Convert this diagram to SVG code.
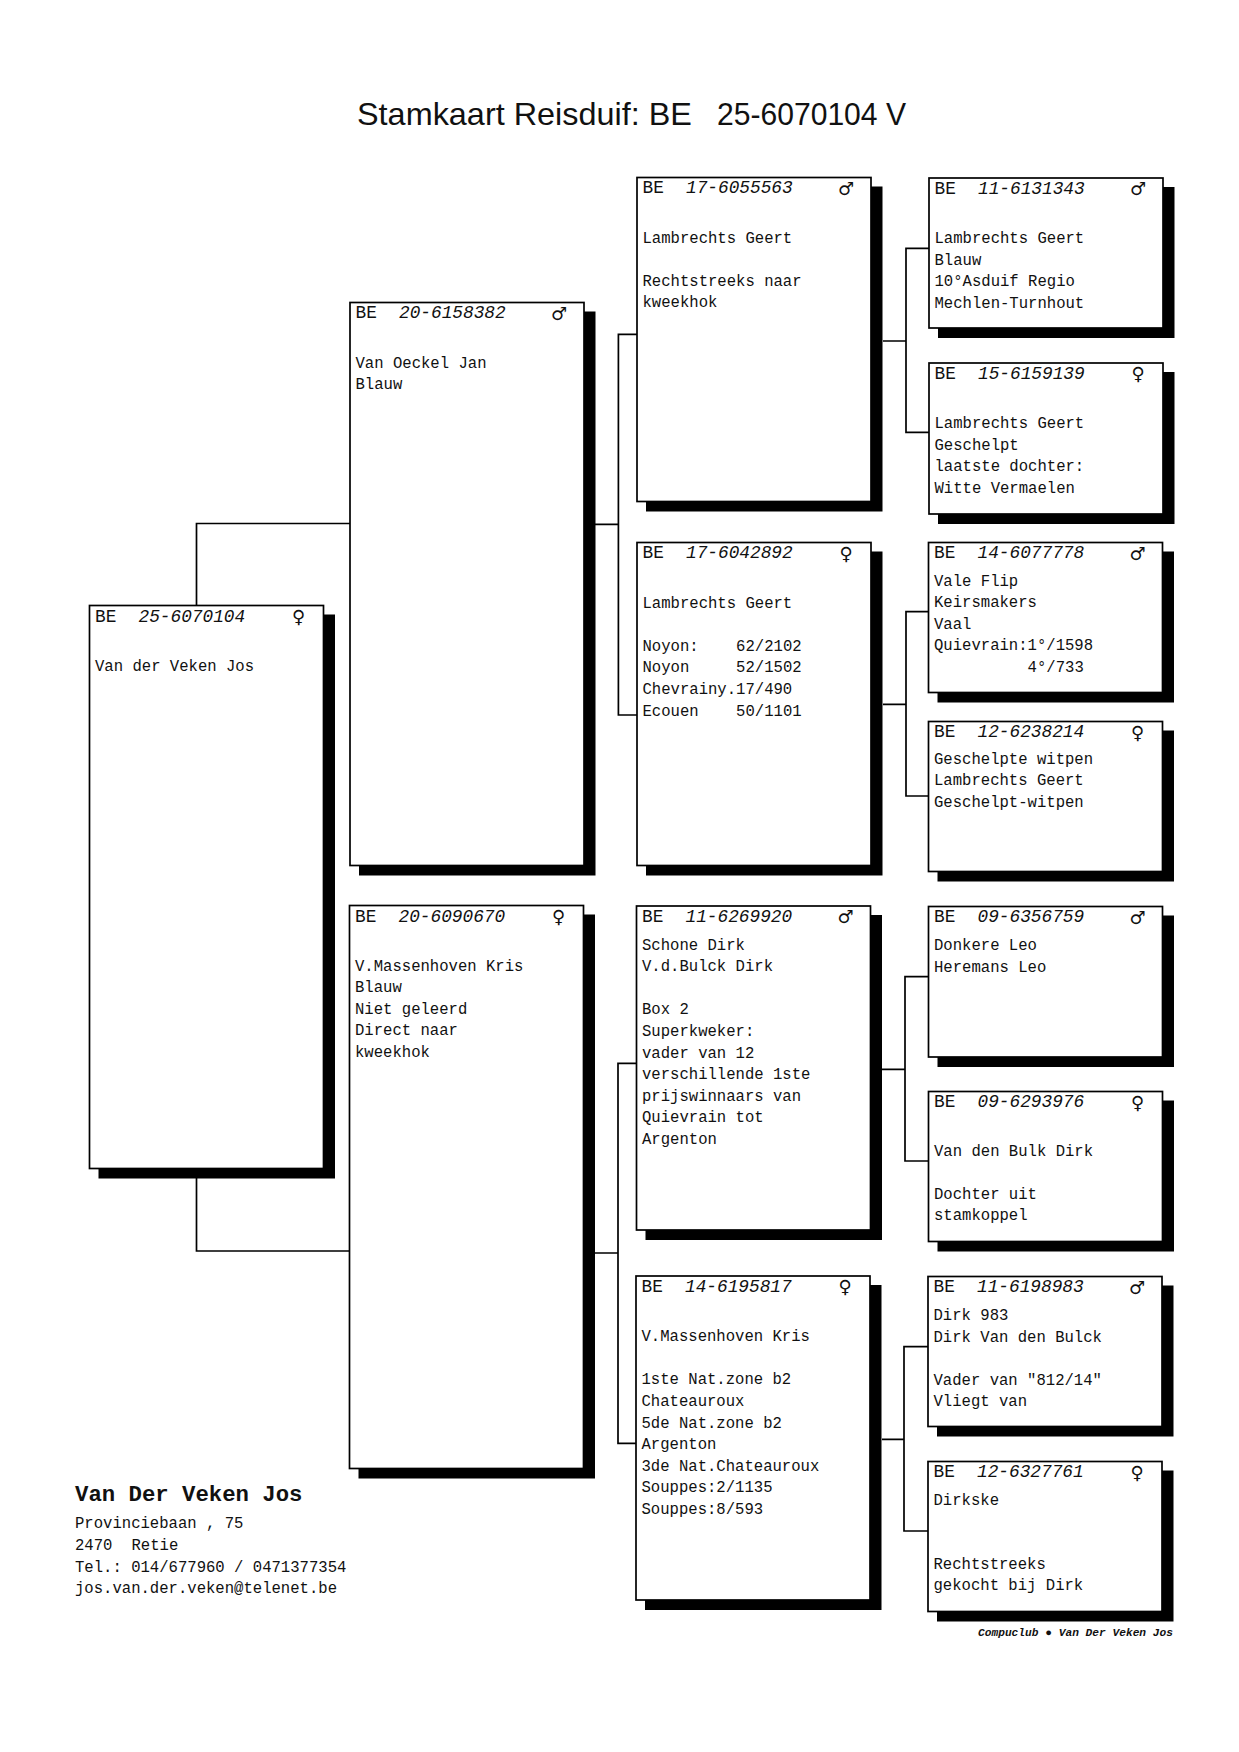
<svg xmlns="http://www.w3.org/2000/svg" width="1239" height="1752" viewBox="0 0 1239 1752">
<style>
.box{fill:#fff;stroke:#000;stroke-width:1.7}
.shd{fill:#000}
.hd{font-family:"Liberation Mono","Courier New",monospace;font-size:17.8px;fill:#111}
.num{font-style:italic}
.sx{font-family:"DejaVu Sans",sans-serif;font-size:18px;text-anchor:middle;fill:#111}
.t{font-family:"Liberation Mono","Courier New",monospace;font-size:15.6px;fill:#111}
.ln{fill:none;stroke:#000;stroke-width:1.7}
.title{font-family:"Liberation Sans",Arial,sans-serif;font-size:31.5px;fill:#111}
.own{font-family:"Liberation Mono","Courier New",monospace;font-size:22.3px;font-weight:bold;fill:#111}
.foot{font-family:"Liberation Mono","Courier New",monospace;font-size:11px;font-weight:bold;font-style:italic;fill:#111}
</style>
<rect width="1239" height="1752" fill="#fff"/>
<text class="title" x="357" y="125" textLength="335" lengthAdjust="spacingAndGlyphs">Stamkaart Reisduif: BE</text>
<text class="title" x="717" y="125" textLength="189" lengthAdjust="spacingAndGlyphs">25-6070104 V</text>

<g id="connectors">
<path class="ln" d="M196.5,605.5 V523.5 H350"/>
<path class="ln" d="M196.5,1178 V1251 H349.5"/>
<path class="ln" d="M595,524.3 H618.4 M637,334.3 H618.4 V715 H637"/>
<path class="ln" d="M595,1253 H618 M636.5,1063.3 H618 V1443.3 H636"/>
<path class="ln" d="M883,341 H906 M929,248.3 H906 V432.3 H929"/>
<path class="ln" d="M883,704.3 H906 M928.5,611.7 H906 V796 H928.5"/>
<path class="ln" d="M882,1069.3 H905 M928.5,976.7 H905 V1161 H928.5"/>
<path class="ln" d="M882,1439.3 H904 M928,1346.7 H904 V1531 H928"/>
</g>

<g id="n-25-6070104" transform="translate(89.5,605.5)">
<rect class="shd" x="9" y="9" width="236.5" height="564"/>
<rect class="box" width="234" height="563"/>
<text class="hd" x="5.5" y="16">BE</text><text class="hd num" x="49" y="16">25-6070104</text><text class="sx" x="209" y="17">♀</text>
<text class="t" x="5.5" y="65.1">Van der Veken Jos</text>
</g>

<g id="n-20-6158382" transform="translate(350,302.5)">
<rect class="shd" x="9" y="9" width="236.5" height="564"/>
<rect class="box" width="234" height="563"/>
<text class="hd" x="5.5" y="15.5">BE</text><text class="hd num" x="49" y="15.5">20-6158382</text><text class="sx" x="209" y="17">♂</text>
<text class="t" x="5.5" y="65.1">Van Oeckel Jan</text>
<text class="t" x="5.5" y="86.7">Blauw</text>
</g>

<g id="n-20-6090670" transform="translate(349.5,905.5)">
<rect class="shd" x="9" y="9" width="236.5" height="564"/>
<rect class="box" width="234" height="563"/>
<text class="hd" x="5.5" y="16">BE</text><text class="hd num" x="49" y="16">20-6090670</text><text class="sx" x="209" y="17">♀</text>
<text class="t" x="5.5" y="65.1">V.Massenhoven Kris</text>
<text class="t" x="5.5" y="86.7">Blauw</text>
<text class="t" x="5.5" y="108.3">Niet geleerd</text>
<text class="t" x="5.5" y="129.9">Direct naar</text>
<text class="t" x="5.5" y="151.5">kweekhok</text>
</g>

<g id="n-17-6055563" transform="translate(637,177.5)">
<rect class="shd" x="9" y="9" width="236.5" height="325"/>
<rect class="box" width="234" height="324"/>
<text class="hd" x="5.5" y="15.5">BE</text><text class="hd num" x="49" y="15.5">17-6055563</text><text class="sx" x="209" y="17">♂</text>
<text class="t" x="5.5" y="65.1">Lambrechts Geert</text>
<text class="t" x="5.5" y="108.3">Rechtstreeks naar</text>
<text class="t" x="5.5" y="129.9">kweekhok</text>
</g>

<g id="n-17-6042892" transform="translate(637,542.5)">
<rect class="shd" x="9" y="9" width="236.5" height="324"/>
<rect class="box" width="234" height="323"/>
<text class="hd" x="5.5" y="15.5">BE</text><text class="hd num" x="49" y="15.5">17-6042892</text><text class="sx" x="209" y="17">♀</text>
<text class="t" x="5.5" y="65.1">Lambrechts Geert</text>
<text class="t" y="108.3"><tspan x="5.5">Noyon:</tspan><tspan x="99.1">62/2102</tspan></text>
<text class="t" y="129.9"><tspan x="5.5">Noyon</tspan><tspan x="99.1">52/1502</tspan></text>
<text class="t" x="5.5" y="151.5">Chevrainy.17/490</text>
<text class="t" y="173.1"><tspan x="5.5">Ecouen</tspan><tspan x="99.1">50/1101</tspan></text>
</g>

<g id="n-11-6269920" transform="translate(636.5,906)">
<rect class="shd" x="9" y="9" width="236.5" height="325"/>
<rect class="box" width="234" height="324"/>
<text class="hd" x="5.5" y="15.5">BE</text><text class="hd num" x="49" y="15.5">11-6269920</text><text class="sx" x="209" y="17">♂</text>
<text class="t" x="5.5" y="43.5">Schone Dirk</text>
<text class="t" x="5.5" y="65.1">V.d.Bulck Dirk</text>
<text class="t" x="5.5" y="108.3">Box 2</text>
<text class="t" x="5.5" y="129.9">Superkweker:</text>
<text class="t" x="5.5" y="151.5">vader van 12</text>
<text class="t" x="5.5" y="173.1">verschillende 1ste</text>
<text class="t" x="5.5" y="194.7">prijswinnaars van</text>
<text class="t" x="5.5" y="216.3">Quievrain tot</text>
<text class="t" x="5.5" y="237.9">Argenton</text>
</g>

<g id="n-14-6195817" transform="translate(636,1276)">
<rect class="shd" x="9" y="9" width="236.5" height="325"/>
<rect class="box" width="234" height="324"/>
<text class="hd" x="5.5" y="15.5">BE</text><text class="hd num" x="49" y="15.5">14-6195817</text><text class="sx" x="209" y="17">♀</text>
<text class="t" x="5.5" y="65.1">V.Massenhoven Kris</text>
<text class="t" x="5.5" y="108.3">1ste Nat.zone b2</text>
<text class="t" x="5.5" y="129.9">Chateauroux</text>
<text class="t" x="5.5" y="151.5">5de Nat.zone b2</text>
<text class="t" x="5.5" y="173.1">Argenton</text>
<text class="t" x="5.5" y="194.7">3de Nat.Chateauroux</text>
<text class="t" x="5.5" y="216.3">Souppes:2/1135</text>
<text class="t" x="5.5" y="237.9">Souppes:8/593</text>
</g>

<g id="n-11-6131343" transform="translate(929,178)">
<rect class="shd" x="9" y="9" width="236.5" height="151"/>
<rect class="box" width="234" height="150"/>
<text class="hd" x="5.5" y="15.5">BE</text><text class="hd num" x="49" y="15.5">11-6131343</text><text class="sx" x="209" y="17">♂</text>
<text class="t" x="5.5" y="65.1">Lambrechts Geert</text>
<text class="t" x="5.5" y="86.7">Blauw</text>
<text class="t" x="5.5" y="108.3">10°Asduif Regio</text>
<text class="t" x="5.5" y="129.9">Mechlen-Turnhout</text>
</g>

<g id="n-15-6159139" transform="translate(929,363)">
<rect class="shd" x="9" y="9" width="236.5" height="152"/>
<rect class="box" width="234" height="151"/>
<text class="hd" x="5.5" y="15.5">BE</text><text class="hd num" x="49" y="15.5">15-6159139</text><text class="sx" x="209" y="17">♀</text>
<text class="t" x="5.5" y="65.1">Lambrechts Geert</text>
<text class="t" x="5.5" y="86.7">Geschelpt</text>
<text class="t" x="5.5" y="108.3">laatste dochter:</text>
<text class="t" x="5.5" y="129.9">Witte Vermaelen</text>
</g>

<g id="n-14-6077778" transform="translate(928.5,542.5)">
<rect class="shd" x="9" y="9" width="236.5" height="151"/>
<rect class="box" width="234" height="150"/>
<text class="hd" x="5.5" y="15">BE</text><text class="hd num" x="49" y="15">14-6077778</text><text class="sx" x="209" y="17">♂</text>
<text class="t" x="5.5" y="43">Vale Flip</text>
<text class="t" x="5.5" y="64.6">Keirsmakers</text>
<text class="t" x="5.5" y="86.2">Vaal</text>
<text class="t" x="5.5" y="107.8">Quievrain:1°/1598</text>
<text class="t" x="99.1" y="129.4">4°/733</text>
</g>

<g id="n-12-6238214" transform="translate(928.5,721.5)">
<rect class="shd" x="9" y="9" width="236.5" height="151"/>
<rect class="box" width="234" height="150"/>
<text class="hd" x="5.5" y="15">BE</text><text class="hd num" x="49" y="15">12-6238214</text><text class="sx" x="209" y="17">♀</text>
<text class="t" x="5.5" y="42">Geschelpte witpen</text>
<text class="t" x="5.5" y="63.6">Lambrechts Geert</text>
<text class="t" x="5.5" y="85.2">Geschelpt-witpen</text>
</g>

<g id="n-09-6356759" transform="translate(928.5,906.5)">
<rect class="shd" x="9" y="9" width="236.5" height="151.5"/>
<rect class="box" width="234" height="150.5"/>
<text class="hd" x="5.5" y="15.5">BE</text><text class="hd num" x="49" y="15.5">09-6356759</text><text class="sx" x="209" y="17">♂</text>
<text class="t" x="5.5" y="43.5">Donkere Leo</text>
<text class="t" x="5.5" y="65.1">Heremans Leo</text>
</g>

<g id="n-09-6293976" transform="translate(928.5,1091.5)">
<rect class="shd" x="9" y="9" width="236.5" height="151"/>
<rect class="box" width="234" height="150"/>
<text class="hd" x="5.5" y="15.5">BE</text><text class="hd num" x="49" y="15.5">09-6293976</text><text class="sx" x="209" y="17">♀</text>
<text class="t" x="5.5" y="64.5">Van den Bulk Dirk</text>
<text class="t" x="5.5" y="107">Dochter uit</text>
<text class="t" x="5.5" y="128.5">stamkoppel</text>
</g>

<g id="n-11-6198983" transform="translate(928,1276.5)">
<rect class="shd" x="9" y="9" width="236.5" height="151"/>
<rect class="box" width="234" height="150"/>
<text class="hd" x="5.5" y="15.5">BE</text><text class="hd num" x="49" y="15.5">11-6198983</text><text class="sx" x="209" y="17">♂</text>
<text class="t" x="5.5" y="43.5">Dirk 983</text>
<text class="t" x="5.5" y="65.1">Dirk Van den Bulck</text>
<text class="t" x="5.5" y="108.3">Vader van "812/14"</text>
<text class="t" x="5.5" y="129.9">Vliegt van</text>
</g>

<g id="n-12-6327761" transform="translate(928,1461.5)">
<rect class="shd" x="9" y="9" width="236.5" height="151"/>
<rect class="box" width="234" height="150"/>
<text class="hd" x="5.5" y="15.5">BE</text><text class="hd num" x="49" y="15.5">12-6327761</text><text class="sx" x="209" y="17">♀</text>
<text class="t" x="5.5" y="43">Dirkske</text>
<text class="t" x="5.5" y="107">Rechtstreeks</text>
<text class="t" x="5.5" y="128.5">gekocht bij Dirk</text>
</g>

<g id="owner">
<text class="own" x="75" y="1500.7">Van Der Veken Jos</text>
<text class="t" x="75" y="1528">Provinciebaan , 75</text>
<text class="t" y="1550"><tspan x="75">2470</tspan><tspan x="131.5">Retie</tspan></text>
<text class="t" x="75" y="1571.5">Tel.: 014/677960 / 0471377354</text>
<text class="t" x="75" y="1593">jos.van.der.veken@telenet.be</text>
</g>
<text class="foot" x="978" y="1636" textLength="195" lengthAdjust="spacingAndGlyphs">Compuclub ● Van Der Veken Jos</text>
</svg>
